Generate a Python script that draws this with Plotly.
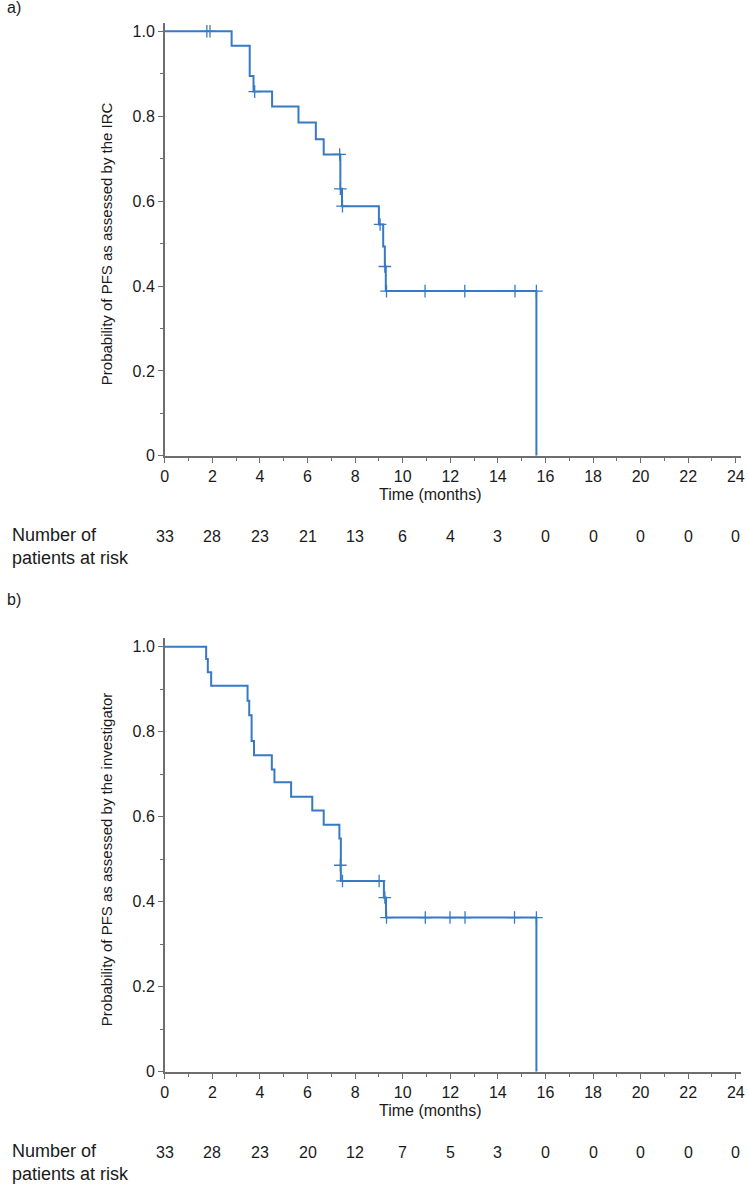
import plotly.graph_objects as go

W, H = 749, 1190

# ---- Data (a) IRC ----
a_times = [0, 2.81, 3.57, 3.73, 4.51, 5.62, 6.35, 6.68, 7.38, 7.45, 9.0, 9.18, 9.25, 9.29, 15.62]
a_surv = [1.0, 0.966, 0.895, 0.858, 0.823, 0.785, 0.746, 0.710, 0.629, 0.588, 0.545, 0.493, 0.446, 0.388, 0.0]
a_cens_t = [1.77, 1.90, 3.78, 7.35, 7.38, 7.47, 9.05, 9.25, 9.32, 10.94, 12.61, 14.72, 15.62]
a_cens_s = [1.0, 1.0, 0.858, 0.710, 0.629, 0.588, 0.545, 0.446, 0.388, 0.388, 0.388, 0.388, 0.388]

# ---- Data (b) investigator ----
b_times = [0, 1.74, 1.81, 1.95, 3.48, 3.55, 3.65, 3.75, 4.50, 4.61, 5.31, 6.20, 6.68, 7.34, 7.40, 9.21, 9.30, 15.62]
b_surv = [1.0, 0.971, 0.940, 0.908, 0.873, 0.839, 0.778, 0.745, 0.711, 0.681, 0.647, 0.615, 0.581, 0.549, 0.449, 0.410, 0.363, 0.0]
b_cens_t = [7.38, 7.47, 9.01, 9.25, 9.32, 10.95, 11.99, 12.62, 14.70, 15.62]
b_cens_s = [0.486, 0.449, 0.449, 0.410, 0.363, 0.363, 0.363, 0.363, 0.363, 0.363]

risk_times = [0, 2, 4, 6, 8, 10, 12, 14, 16, 18, 20, 22, 24]
a_at_risk = [33, 28, 23, 21, 13, 6, 4, 3, 0, 0, 0, 0, 0]
b_at_risk = [33, 28, 23, 20, 12, 7, 5, 3, 0, 0, 0, 0, 0]

x_ticks = [0, 2, 4, 6, 8, 10, 12, 14, 16, 18, 20, 22, 24]
y_ticks = [0, 0.2, 0.4, 0.6, 0.8, 1.0]
y_ticktext = ["0", "0.2", "0.4", "0.6", "0.8", "1.0"]

panel_labels = ["a)", "b)"]
y_titles = ["Probability of PFS as assessed by the IRC",
            "Probability of PFS as assessed by the investigator"]

LINE = "#3779c4"
AX = "#6e6e6e"
TXT = "#1a1a1a"
FONT = "Liberation Sans, Arial, sans-serif"


def px_x(p):
    return p / W


def px_y(p):
    return 1 - p / H


# Layout pixel geometry
x_left, x_right = 162.5, 744.5
panels = [
    dict(top=23.0, zero=459.3),
    dict(top=643.1, zero=1080.0),
]

fig = go.Figure()

datasets = [
    (a_times, a_surv, a_cens_t, a_cens_s, a_at_risk),
    (b_times, b_surv, b_cens_t, b_cens_s, b_at_risk),
]

annotations = []
for i, (t, s, ct, cs, risk) in enumerate(datasets):
    xa = "x" if i == 0 else "x2"
    ya = "y" if i == 0 else "y2"
    fig.add_trace(go.Scatter(x=t, y=s, mode="lines", line=dict(color=LINE, width=2, shape="hv"),
                             xaxis=xa, yaxis=ya, showlegend=False, hoverinfo="skip"))
    fig.add_trace(go.Scatter(x=ct, y=cs, mode="markers",
                             marker=dict(symbol="cross-thin", size=9, line=dict(color=LINE, width=1.3)),
                             xaxis=xa, yaxis=ya, showlegend=False, hoverinfo="skip"))
    P = panels[i]
    zero = P["zero"]
    # panel label
    annotations.append(dict(text=panel_labels[i], x=px_x(1), y=px_y(8 if i == 0 else 604),
                            xref="paper", yref="paper", xanchor="left", yanchor="middle",
                            showarrow=False, font=dict(size=16, color=TXT, family=FONT)))
    # y title
    annotations.append(dict(text=y_titles[i], x=px_x(103), y=px_y(zero - 428.3 / 2),
                            xref="paper", yref="paper", xanchor="center", yanchor="middle",
                            textangle=-90, showarrow=False, font=dict(size=15, color=TXT, family=FONT)))
    # x title
    annotations.append(dict(text="Time (months)", x=px_x(431), y=px_y(zero + 39),
                            xref="paper", yref="paper", xanchor="center", yanchor="middle",
                            showarrow=False, font=dict(size=16, color=TXT, family=FONT)))
    # at-risk label
    annotations.append(dict(text="Number of<br>patients at risk", x=px_x(6), y=px_y(zero + 91),
                            xref="paper", yref="paper", xanchor="left", yanchor="middle", align="left",
                            showarrow=False, font=dict(size=18, color=TXT, family=FONT)))
    for rt, rv in zip(risk_times, risk):
        annotations.append(dict(text=str(rv), x=rt, y=px_y(zero + 81), xref=xa, yref="paper",
                                xanchor="center", yanchor="middle", showarrow=False,
                                font=dict(size=16, color=TXT, family=FONT)))

axis_common = dict(showgrid=False, zeroline=False, showline=True, linecolor=AX, linewidth=1.5,
                   ticks="outside", ticklen=5, tickwidth=1.2, tickcolor=AX,
                   tickfont=dict(size=16, color=TXT, family=FONT))

for i in range(2):
    P = panels[i]
    dom_y = [px_y(P["zero"]), px_y(P["top"])]
    xkey = "xaxis" if i == 0 else "xaxis2"
    ykey = "yaxis" if i == 0 else "yaxis2"
    fig.update_layout({
        xkey: dict(axis_common, domain=[px_x(x_left), px_x(x_right)], range=[0, 24.2],
                   tickvals=x_ticks, ticktext=[str(v) for v in x_ticks],
                   anchor="y" if i == 0 else "y2",
                   minor=dict(dtick=1, tick0=0, ticks="outside", ticklen=3, tickcolor=AX, tickwidth=1)),
        ykey: dict(axis_common, domain=dom_y, range=[0, 1.02],
                   tickvals=y_ticks, ticktext=y_ticktext,
                   anchor="x" if i == 0 else "x2",
                   minor=dict(dtick=0.1, tick0=0, ticks="outside", ticklen=3, tickcolor=AX, tickwidth=1)),
    })

fig.update_layout(width=W, height=H, margin=dict(l=0, r=0, t=0, b=0),
                  paper_bgcolor="white", plot_bgcolor="white",
                  font=dict(family=FONT, color=TXT), annotations=annotations)

fig.write_html("out.html")
